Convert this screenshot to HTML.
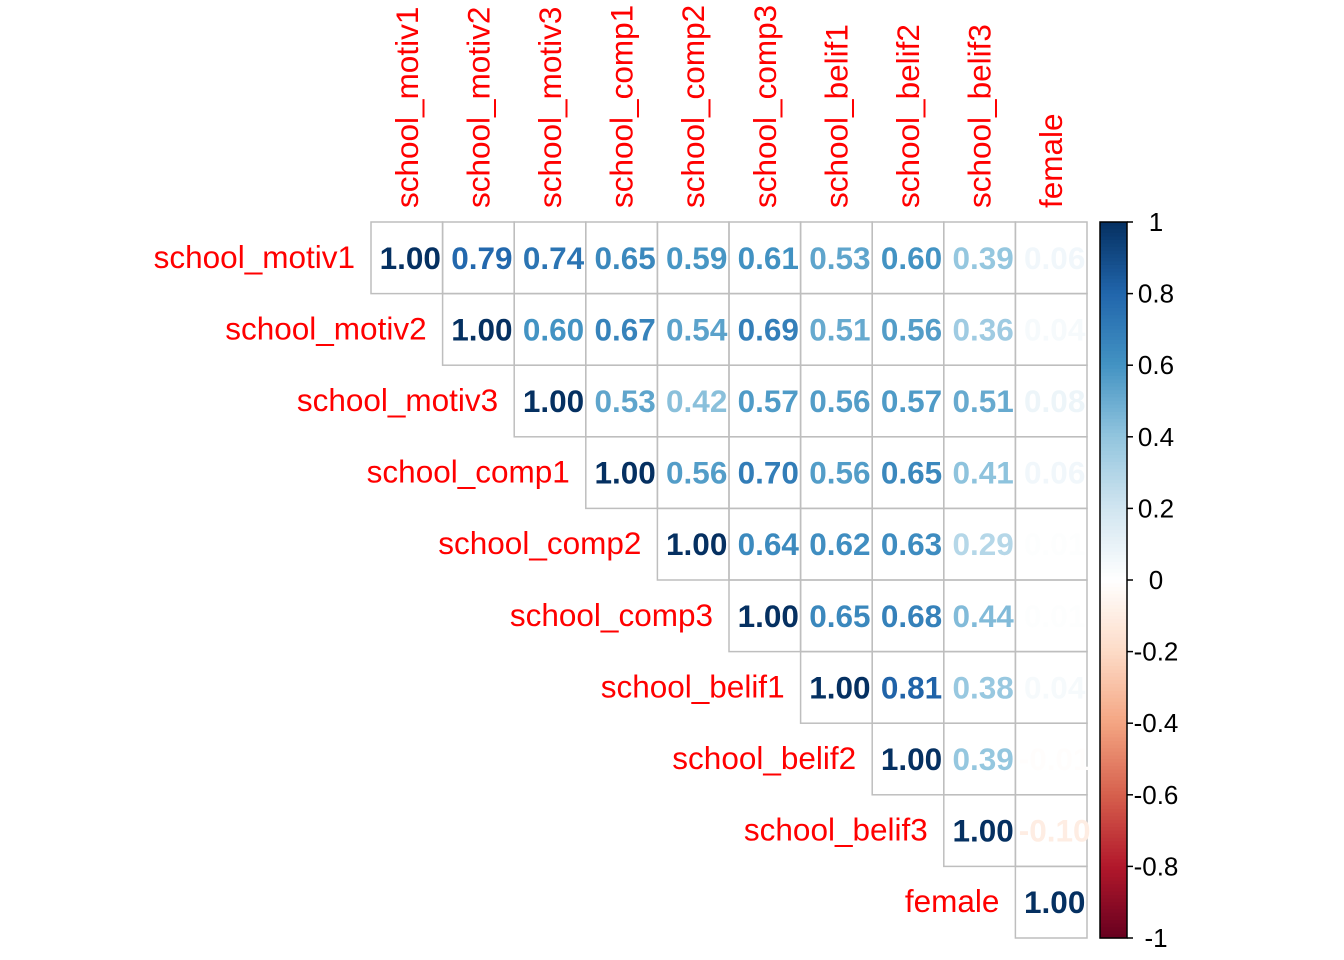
<!DOCTYPE html>
<html><head><meta charset="utf-8"><style>
html,body{margin:0;padding:0;background:#fff;}
svg{display:block;font-family:"Liberation Sans",Arial,sans-serif;}
</style></head><body>
<svg id="chart" width="1344" height="960" viewBox="0 0 1344 960"></svg>
<script>
const variables = ["school_motiv1","school_motiv2","school_motiv3","school_comp1","school_comp2","school_comp3","school_belif1","school_belif2","school_belif3","female"];
const row0 = [1.00,0.79,0.74,0.65,0.59,0.61,0.53,0.60,0.39,0.06];
const row1 = [1.00,0.60,0.67,0.54,0.69,0.51,0.56,0.36,0.04];
const row2 = [1.00,0.53,0.42,0.57,0.56,0.57,0.51,0.08];
const row3 = [1.00,0.56,0.70,0.56,0.65,0.41,0.06];
const row4 = [1.00,0.64,0.62,0.63,0.29,0.01];
const row5 = [1.00,0.65,0.68,0.44,0.01];
const row6 = [1.00,0.81,0.38,0.04];
const row7 = [1.00,0.39,-0.01];
const row8 = [1.00,-0.10];
const row9 = [1.00];
const colorTicks = [1,0.8,0.6,0.4,0.2,0,-0.2,-0.4,-0.6,-0.8,-1];
const rows=[row0,row1,row2,row3,row4,row5,row6,row7,row8,row9];
const pal=["#67001F","#B2182B","#D6604D","#F4A582","#FDDBC7","#FFFFFF","#D1E5F0","#92C5DE","#4393C3","#2166AC","#053061"];
function hex(h){return [1,3,5].map(i=>parseInt(h.substr(i,2),16));}
function col(v){let t=(v+1)/2*10;let i=Math.min(9,Math.floor(t));let f=t-i;let a=hex(pal[i]),b=hex(pal[i+1]);return "rgb("+a.map((x,k)=>Math.round(x+(b[k]-x)*f)).join(",")+")";}
const svg=document.getElementById('chart');const NS="http://www.w3.org/2000/svg";
const x0=371,y0=222,cw=71.6,n=variables.length;
const xs=j=>x0+j*cw, ys=i=>y0+i*cw;
function mk(t,a,p){const e=document.createElementNS(NS,t);for(const k in a)e.setAttribute(k,a[k]);(p||svg).appendChild(e);return e;}
rows.forEach((r,i)=>{r.forEach((v,k)=>{const j=i+k;
 const c=mk('rect',{x:xs(j),y:ys(i),width:cw,height:cw,fill:'none',stroke:'#BEBEBE','stroke-width':1.5});
 
 
 const t=mk('text',{x:xs(j)+cw/2+3.5,y:ys(i)+cw/2+11,'text-anchor':'middle','font-size':31.5,'font-weight':'bold',fill:col(v)});
 t.textContent=v.toFixed(2);
 
 
});});
variables.forEach((v,i)=>{
 const t=mk('text',{x:xs(i)-16,y:ys(i)+cw/2+10,'text-anchor':'end','font-size':31.5,fill:'#FF0000'});t.textContent=v;
 
 
 const cx=xs(i)+cw/2+11;
 const c=mk('text',{x:cx,y:208,'text-anchor':'start','font-size':31.5,fill:'#FF0000',transform:'rotate(-90 '+cx+' 208)'});c.textContent=v;
 
 
});
const bx=1100,bw=27,by=222,bh=716;
const g=mk('g',{});
for(let k=0;k<200;k++){const v=1-(k+0.5)/200*2;mk('rect',{x:bx,y:by+k*bh/200,width:bw,height:bh/200+0.6,fill:col(v)},g);}
mk('rect',{x:bx,y:by,width:bw,height:bh,fill:'none',stroke:'#000','stroke-width':1.5},g);
colorTicks.forEach(v=>{const y=by+(1-v)/2*bh;
 mk('line',{x1:bx+bw,x2:bx+bw+6,y1:y,y2:y,stroke:'#000','stroke-width':1.5},g);
 const t=mk('text',{x:1156,y:y+9,'text-anchor':'middle','font-size':26,fill:'#000'},g);t.textContent=String(v);
 
 
});
</script>
</body></html>
